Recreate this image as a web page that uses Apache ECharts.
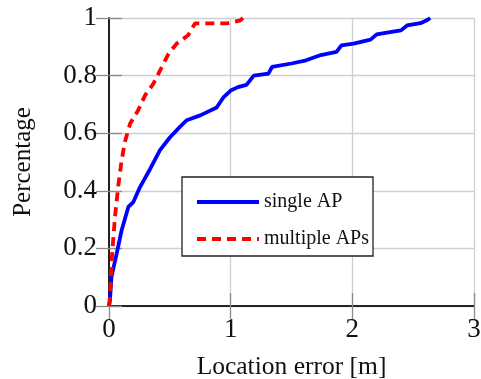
<!DOCTYPE html>
<html>
<head>
<meta charset="utf-8">
<script src="https://cdn.jsdelivr.net/npm/echarts@6/dist/echarts.min.js"></script>
<style>
  html, body { margin: 0; padding: 0; background: #fff; }
  #chart { width: 481px; height: 379px; }
</style>
</head>
<body>
<div id="chart"></div>
<script>
// single AP CDF
const singleX = [0, 0.008, 0.02, 0.063, 0.104, 0.159, 0.2, 0.255, 0.337, 0.419, 0.5, 0.583, 0.638, 0.75, 0.885, 0.94, 1.0, 1.06, 1.13, 1.19, 1.31, 1.34, 1.5, 1.62, 1.73, 1.87, 1.91, 2.01, 2.15, 2.2, 2.31, 2.4, 2.45, 2.56, 2.62, 2.64]
const singleY = [0, 0.02, 0.1, 0.182, 0.263, 0.344, 0.361, 0.413, 0.475, 0.541, 0.585, 0.622, 0.645, 0.662, 0.689, 0.724, 0.748, 0.76, 0.768, 0.8, 0.807, 0.83, 0.842, 0.853, 0.87, 0.882, 0.905, 0.911, 0.925, 0.943, 0.951, 0.957, 0.974, 0.982, 0.994, 1.0]

// multiple APs CDF
const multiX = [0, 0.008, 0.022, 0.049, 0.077, 0.104, 0.131, 0.173, 0.24, 0.296, 0.365, 0.42, 0.49, 0.556, 0.65, 0.707, 0.97, 1.08, 1.1]
const multiY = [0, 0.03, 0.16, 0.309, 0.42, 0.506, 0.57, 0.633, 0.68, 0.731, 0.772, 0.818, 0.876, 0.911, 0.94, 0.981, 0.981, 0.992, 1.0]

const seriesNames = ['single AP', 'multiple APs']
const xTicks = [0, 1, 2, 3]
const yTicks = [0, 0.2, 0.4, 0.6, 0.8, 1]

const FONT = '"Liberation Serif", "DejaVu Serif", serif'
const zip = (xs, ys) => xs.map((x, i) => [x, ys[i]])

const tickStyle = { show: true, inside: true, length: 13, lineStyle: { color: '#8a8a8a', width: 1.3 } }
const lineStyle = { show: true, lineStyle: { color: '#1a1a1a', width: 1.6 } }
const gridStyle = { show: true, lineStyle: { color: '#cfcfcf', width: 1.3 } }

const chart = echarts.init(document.getElementById('chart'), null, { renderer: 'canvas' })

chart.setOption({
  animation: false,
  grid: { left: 109, top: 18, width: 365, height: 288, outerBoundsMode: 'none' },
  legend: {
    data: seriesNames,
    orient: 'vertical',
    left: 182,
    top: 177,
    padding: [14, 4, 6, 13],
    itemWidth: 62,
    itemHeight: 14,
    itemGap: 15,
    itemTextGap: 10,
    itemStyle: { opacity: 0 },
    lineStyle: { width: 4 },
    backgroundColor: '#fff',
    borderColor: '#222',
    borderWidth: 1.3,
    borderRadius: 0,
    textStyle: { fontFamily: FONT, fontSize: 20, color: '#111', lineHeight: 22 }
  },
  xAxis: [
    {
      type: 'value',
      min: xTicks[0],
      max: xTicks[xTicks.length - 1],
      interval: 1,
      name: 'Location error [m]',
      nameLocation: 'middle',
      nameGap: 48,
      nameMoveOverlap: false,
      nameTextStyle: { fontFamily: FONT, fontSize: 25.5, color: '#111' },
      axisLine: lineStyle,
      axisTick: tickStyle,
      axisLabel: { fontFamily: FONT, fontSize: 27, color: '#111', margin: 10 },
      splitLine: gridStyle
    },
    {
      type: 'value',
      position: 'top',
      min: xTicks[0],
      max: xTicks[xTicks.length - 1],
      interval: 1,
      axisLine: lineStyle,
      axisTick: tickStyle,
      axisLabel: { show: false },
      splitLine: { show: false }
    }
  ],
  yAxis: [
    {
      type: 'value',
      min: yTicks[0],
      max: yTicks[yTicks.length - 1],
      interval: 0.2,
      name: 'Percentage',
      nameLocation: 'middle',
      nameGap: 73,
      nameMoveOverlap: false,
      nameTextStyle: { fontFamily: FONT, fontSize: 25, color: '#111' },
      axisLine: lineStyle,
      axisTick: tickStyle,
      axisLabel: { fontFamily: FONT, fontSize: 27, color: '#111', margin: 12 },
      splitLine: gridStyle
    },
    {
      type: 'value',
      position: 'right',
      min: yTicks[0],
      max: yTicks[yTicks.length - 1],
      interval: 0.2,
      axisLine: lineStyle,
      axisTick: tickStyle,
      axisLabel: { show: false },
      splitLine: { show: false }
    }
  ],
  series: [
    {
      name: seriesNames[0],
      type: 'line',
      data: zip(singleX, singleY),
      showSymbol: false,
      symbol: 'none',
      color: '#0000ff',
      lineStyle: { color: '#0000ff', width: 3.8 },
      z: 3
    },
    {
      name: seriesNames[1],
      type: 'line',
      data: zip(multiX, multiY),
      showSymbol: false,
      symbol: 'none',
      color: '#ff0000',
      lineStyle: { color: '#ff0000', width: 3.8, type: [9, 6] },
      z: 3
    }
  ]
})
</script>
</body>
</html>
